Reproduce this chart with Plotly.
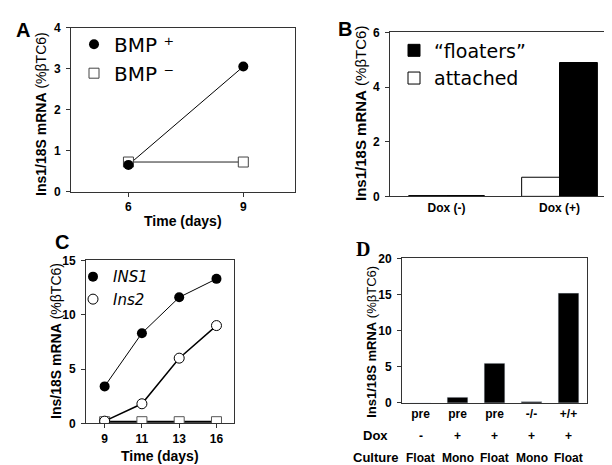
import plotly.graph_objects as go

# ---- data ----
a_days = [6, 9]
a_bmp_plus = [0.65, 3.05]
a_bmp_minus = [0.72, 0.72]

b_cats = ["Dox (-)", "Dox (+)"]
b_floaters = [0.03, 4.9]
b_attached = [0.03, 0.7]

c_days = ["9", "11", "13", "16"]
c_ins1 = [3.4, 8.3, 11.6, 13.3]
c_ins2 = [0.2, 1.8, 6.0, 9.0]
c_ctrl = [0.15, 0.15, 0.15, 0.15]

d_geno = ["pre", "pre", "pre", "-/-", "+/+"]
d_dox = ["-", "+", "+", "+", "+"]
d_culture = ["Float", "Mono", "Float", "Mono", "Float"]
d_values = [0.0, 0.8, 5.5, 0.2, 15.2]

W, H = 612, 465
FONT = "Arial, Liberation Sans, sans-serif"
LFONT = "DejaVu Sans, Verdana, sans-serif"


def px(x0, x1):
    return [x0 / W, x1 / W]


def py(ytop, ybot):
    return [1 - ybot / H, 1 - ytop / H]


fig = go.Figure()

# ---- Panel A ----
fig.add_trace(go.Scatter(x=a_days, y=a_bmp_plus, mode="lines", showlegend=False,
                         line=dict(color="black", width=1), xaxis="x", yaxis="y"))
fig.add_trace(go.Scatter(x=a_days, y=a_bmp_minus, mode="lines", showlegend=False,
                         line=dict(color="#222", width=1), xaxis="x", yaxis="y"))
fig.add_trace(go.Scatter(x=a_days, y=a_bmp_minus, mode="markers", name="BMP \u207b",
                         marker=dict(symbol="square", size=10, color="white", line=dict(color="#444", width=1)),
                         xaxis="x", yaxis="y", legend="legend", legendrank=2))
fig.add_trace(go.Scatter(x=a_days, y=a_bmp_plus, mode="markers", name="BMP \u207a",
                         marker=dict(symbol="circle", size=10, color="black"),
                         xaxis="x", yaxis="y", legend="legend", legendrank=1))

# ---- Panel B ----
fig.add_trace(go.Bar(x=[0, 1], y=b_attached, name="attached",
                     marker=dict(color="white", line=dict(color="black", width=1)),
                     xaxis="x2", yaxis="y2", legend="legend2", legendrank=2))
fig.add_trace(go.Bar(x=[0, 1], y=b_floaters, name="\u201cfloaters\u201d",
                     marker=dict(color="black", line=dict(color="black", width=1)),
                     xaxis="x2", yaxis="y2", legend="legend2", legendrank=1))

# ---- Panel C ----
cx = list(range(len(c_days)))
fig.add_trace(go.Scatter(x=cx, y=c_ctrl, mode="lines+markers", showlegend=False,
                         line=dict(color="black", width=2),
                         marker=dict(symbol="square", size=10, color="white", line=dict(color="#555", width=1)),
                         xaxis="x3", yaxis="y3"))
fig.add_trace(go.Scatter(x=cx, y=c_ins1, mode="lines", showlegend=False,
                         line=dict(color="black", width=1), xaxis="x3", yaxis="y3"))
fig.add_trace(go.Scatter(x=cx, y=c_ins2, mode="lines", showlegend=False,
                         line=dict(color="black", width=1.5), xaxis="x3", yaxis="y3"))
fig.add_trace(go.Scatter(x=cx, y=c_ins1, mode="markers", name="<i>INS1</i>",
                         marker=dict(symbol="circle", size=10, color="black"),
                         xaxis="x3", yaxis="y3", legend="legend3", legendrank=1))
fig.add_trace(go.Scatter(x=cx, y=c_ins2, mode="markers", name="<i>Ins2</i>",
                         marker=dict(symbol="circle", size=10, color="white", line=dict(color="black", width=1)),
                         xaxis="x3", yaxis="y3", legend="legend3", legendrank=2))

# ---- Panel D ----
dx = list(range(len(d_values)))
fig.add_trace(go.Bar(x=dx, y=d_values, width=0.56, showlegend=False,
                     marker=dict(color="black"), xaxis="x4", yaxis="y4"))

tickfont = dict(family=FONT, size=12, color="black")
titlefont = dict(family=FONT, size=14, color="black")
axcommon = dict(showline=True, linecolor="#333", linewidth=1, mirror=True, showgrid=False,
                zeroline=False, ticks="outside", ticklen=4, tickcolor="#333", tickfont=tickfont)
xnotick = dict(showline=True, linecolor="#333", linewidth=1, mirror=True, showgrid=False,
               zeroline=False, ticks="", tickfont=tickfont)


def bold(vals):
    return [f"<b>{v}</b>" for v in vals]


fig.update_layout(
    width=W, height=H, margin=dict(l=0, r=0, t=0, b=0),
    paper_bgcolor="white", plot_bgcolor="white",
    font=dict(family=FONT, color="black"),
    barmode="group", bargap=0.33, bargroupgap=0,
    xaxis=dict(domain=px(63, 287), anchor="y", range=[4.5, 10.35], tickvals=a_days,
               ticktext=bold(a_days), **axcommon),
    yaxis=dict(domain=py(13, 182), anchor="x", range=[0, 4], tickvals=[0, 1, 2, 3, 4],
               ticktext=bold([0, 1, 2, 3, 4]), ticklabelstandoff=3, **axcommon),
    xaxis2=dict(domain=px(382, 608), anchor="y2", range=[-0.5, 1.5], tickvals=[0, 1],
                ticktext=bold(b_cats), **xnotick),
    yaxis2=dict(domain=py(18, 187), anchor="x2", range=[0, 6], tickvals=[0, 2, 4, 6],
                ticktext=bold([0, 2, 4, 6]), ticklabelstandoff=3, **axcommon),
    xaxis3=dict(domain=px(78, 226), anchor="y3", range=[-0.5, 3.47], tickvals=cx,
                ticktext=bold(c_days), **axcommon),
    yaxis3=dict(domain=py(253, 421), anchor="x3", range=[0, 15], tickvals=[0, 5, 10, 15],
                ticktext=bold([0, 5, 10, 15]), ticklabelstandoff=3, **axcommon),
    xaxis4=dict(domain=px(394, 579), anchor="y4", range=[-0.5, 4.5], tickvals=dx,
                ticktext=bold(d_geno), **xnotick),
    yaxis4=dict(domain=py(251, 400), anchor="x4", range=[0, 20], tickvals=[0, 5, 10, 15, 20],
                ticktext=bold([0, 5, 10, 15, 20]), ticklabelstandoff=3, **axcommon),
    legend=dict(x=66 / W, y=1 - 10 / H, xanchor="left", yanchor="top", bgcolor="rgba(0,0,0,0)",
                font=dict(family=LFONT, size=20, color="black"), itemwidth=30),
    legend2=dict(x=386 / W, y=1 - 17 / H, xanchor="left", yanchor="top", bgcolor="rgba(0,0,0,0)",
                 font=dict(family=LFONT, size=19, color="black"), itemwidth=30),
    legend3=dict(x=65 / W, y=1 - 253 / H, xanchor="left", yanchor="top", bgcolor="rgba(0,0,0,0)",
                 font=dict(family=LFONT, size=15, color="black"), itemwidth=30),
)

ann = []
# panel letters
ann.append(dict(text="<b>A</b>", x=15 / W, y=1 - 15 / H, font=dict(family=FONT, size=20)))
ann.append(dict(text="<b>B</b>", x=337 / W, y=1 - 14 / H, font=dict(family=FONT, size=20)))
ann.append(dict(text="<b>C</b>", x=54 / W, y=1 - 234 / H, font=dict(family=FONT, size=20)))
ann.append(dict(text="<b>D</b>", x=355 / W, y=1 - 241 / H,
                font=dict(family="Liberation Serif, Times New Roman, serif", size=20)))
# axis titles
ann.append(dict(text="<b>Time (days)</b>", x=175 / W, y=1 - 212 / H, font=titlefont))
ann.append(dict(text="<b>Time (days)</b>", x=152 / W, y=1 - 455 / H, font=titlefont))
ytitle = "<b>Ins1/18S mRNA</b> (%\u03b2TC6)"
ann.append(dict(text=ytitle, x=33 / W, y=1 - 102 / H, textangle=-90, font=dict(family=FONT, size=14)))
ann.append(dict(text=ytitle, x=353 / W, y=1 - 101 / H, textangle=-90, font=dict(family=FONT, size=15)))
ann.append(dict(text="<b>Ins/18S mRNA</b> (%\u03b2TC6)", x=48 / W, y=1 - 336 / H, textangle=-90,
                font=dict(family=FONT, size=14)))
ann.append(dict(text=ytitle, x=364 / W, y=1 - 337 / H, textangle=-90, font=dict(family=FONT, size=13)))
# panel D extra rows
for i in dx:
    ann.append(dict(text=f"<b>{d_dox[i]}</b>", x=i, xref="x4", y=1 - 434 / H,
                    font=dict(family=FONT, size=12)))
    ann.append(dict(text=f"<b>{d_culture[i]}</b>", x=i, xref="x4", y=1 - 457 / H,
                    font=dict(family=FONT, size=12)))
ann.append(dict(text="<b>Dox</b>", x=367 / W, y=1 - 434 / H, font=dict(family=FONT, size=13)))
ann.append(dict(text="<b>Culture</b>", x=368 / W, y=1 - 456 / H, font=dict(family=FONT, size=13)))
for a in ann:
    a.setdefault("xref", "paper")
    a["yref"] = "paper"
    a["xanchor"] = "center"
    a["yanchor"] = "middle"
    a["showarrow"] = False
ann[3]["text"] = "<b>D</b>"
fig.update_layout(annotations=ann)

fig.write_html("out.html")
